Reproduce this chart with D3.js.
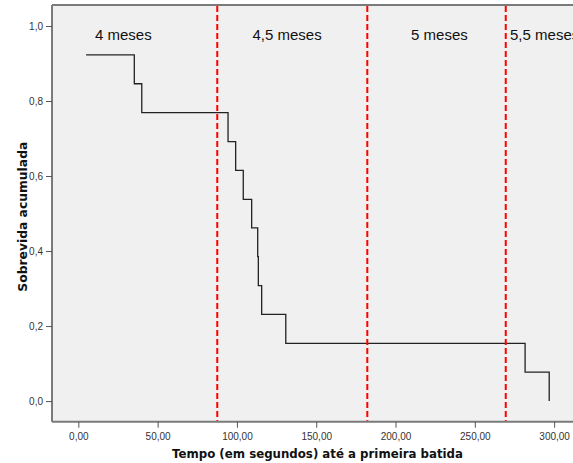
<!DOCTYPE html>
<html>
<head>
    <script src="https://d3js.org/d3.v7.min.js"></script>
    <style>
        body {margin: 0; background: #ffffff; font-family: "Liberation Sans", Arial, sans-serif;}
        .tick text {font-size: 10px; fill: #333;}
    </style>
</head>
<body>
<script>
    // Kaplan-Meier steps (time in seconds, cumulative survival)
    const times = [4.9, 35.3, 40.0, 94.4, 99.2, 104.0, 109.3, 113.1, 113.5, 115.6, 130.8, 281.7, 296.9];
    const survival = [0.923, 0.846, 0.769, 0.692, 0.615, 0.538, 0.462, 0.385, 0.308, 0.231, 0.154, 0.077, 0.0];

    // age limits (red dashed lines)
    const cutoffs = [87.6, 182.2, 269.5];

    // group labels and where they start on the time axis
    const groupLabels = ["4 meses", "4,5 meses", "5 meses", "5,5 meses"];
    const groupStarts = [10.5, 109.8, 209.8, 272.2];

    const xTicks = [0, 50, 100, 150, 200, 250, 300];
    const yTicks = [0, 0.2, 0.4, 0.6, 0.8, 1.0];

    const width = 573, height = 463;
    const plotLeft = 52, plotTop = 5, plotRight = 573, plotBottom = 421.7;

    const svg = d3.select("body").append("svg")
        .attr("width", width)
        .attr("height", height);

    const x = d3.scaleLinear().domain([-16.6, 311.9]).range([plotLeft, plotRight]);
    const y = d3.scaleLinear().domain([-0.055, 1.056]).range([plotBottom, plotTop]);

    const comma = f => v => d3.format(f)(v).replace(".", ",");

    // plot background
    svg.append("rect")
        .attr("x", plotLeft).attr("y", plotTop)
        .attr("width", plotRight - plotLeft).attr("height", plotBottom - plotTop)
        .attr("fill", "#f0f0f0");

    // top border
    svg.append("line")
        .attr("x1", plotLeft).attr("x2", plotRight)
        .attr("y1", plotTop).attr("y2", plotTop)
        .attr("stroke", "#7a7a7a").attr("stroke-width", 2);

    // axes
    const xAxis = svg.append("g")
        .attr("transform", "translate(0," + plotBottom + ")")
        .call(d3.axisBottom(x).tickValues(xTicks).tickSize(6).tickPadding(5).tickFormat(comma(".2f")));
    const yAxis = svg.append("g")
        .attr("transform", "translate(" + plotLeft + ",0)")
        .call(d3.axisLeft(y).tickValues(yTicks).tickSize(6).tickPadding(3).tickFormat(comma(".1f")));

    [xAxis, yAxis].forEach(function(g) {
        g.select(".domain").attr("stroke", "#7a7a7a").attr("stroke-width", 2);
        g.selectAll(".tick line").attr("stroke", "#555");
        g.selectAll(".tick text").style("font-family", "'Liberation Sans', Arial, sans-serif");
    });
    xAxis.select(".domain").attr("d", "M" + plotLeft + ",0H" + plotRight);
    yAxis.select(".domain").attr("d", "M0," + plotTop + "V" + plotBottom);

    // survival curve
    const line = d3.line()
        .x((d, i) => x(times[i]))
        .y(d => y(d))
        .curve(d3.curveStepAfter);

    svg.append("path")
        .datum(survival)
        .attr("d", line)
        .attr("fill", "none")
        .attr("stroke", "#222")
        .attr("stroke-width", 1.3);

    // red dashed age limits
    svg.selectAll(".cut")
        .data(cutoffs)
        .enter().append("line")
        .attr("class", "cut")
        .attr("x1", d => x(d)).attr("x2", d => x(d))
        .attr("y1", plotTop + 1).attr("y2", plotBottom - 1)
        .attr("stroke", "#ff0000")
        .attr("stroke-width", 2)
        .attr("stroke-dasharray", "6,3");

    // group labels
    svg.selectAll(".grp")
        .data(groupLabels)
        .enter().append("text")
        .attr("class", "grp")
        .attr("x", (d, i) => x(groupStarts[i]))
        .attr("y", 39.5)
        .attr("font-size", 15)
        .attr("fill", "#111")
        .text(d => d);

    // axis titles
    svg.append("text")
        .attr("x", 317.5).attr("y", 458)
        .attr("text-anchor", "middle")
        .attr("font-family", "'DejaVu Sans', Verdana, sans-serif")
        .attr("font-size", 12)
        .attr("font-weight", "bold")
        .attr("fill", "#111")
        .attr("textLength", 291)
        .attr("lengthAdjust", "spacingAndGlyphs")
        .text("Tempo (em segundos) até a primeira batida");

    svg.append("text")
        .attr("transform", "translate(26.5,216.7) rotate(-90)")
        .attr("text-anchor", "middle")
        .attr("font-family", "'DejaVu Sans', Verdana, sans-serif")
        .attr("font-size", 12.5)
        .attr("font-weight", "bold")
        .attr("fill", "#111")
        .attr("textLength", 150)
        .attr("lengthAdjust", "spacingAndGlyphs")
        .text("Sobrevida acumulada");
</script>
</body>
</html>
